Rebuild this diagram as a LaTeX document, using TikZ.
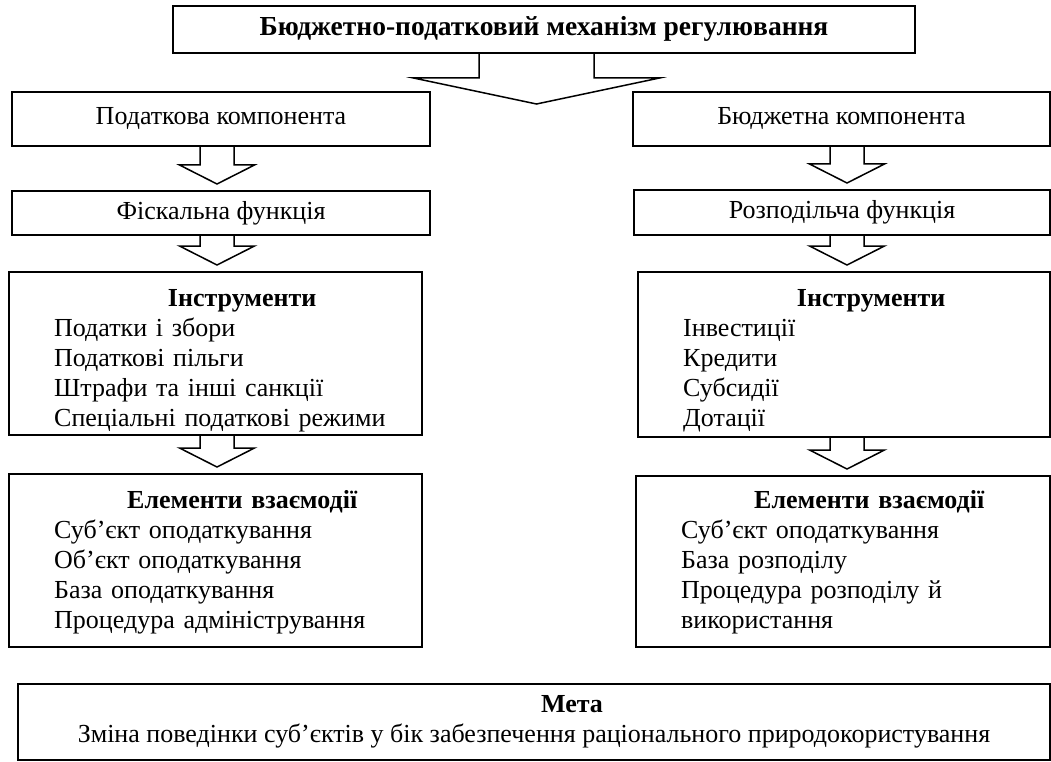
\documentclass[tikz,border=0pt]{standalone}
\usepackage{fontspec}
\setmainfont{Liberation Serif}
\usetikzlibrary{positioning, calc}

% hollow block arrow from the bottom of one box down towards the next one
\newcommand{\hollowarrow}[3]{% #1 column, #2 source node, #3 target node
  \draw[arrowline]
    ($(#2.south -| #1)+(-17,0)$) -- ($(#3.north -| #1)+(-17,-25)$)
    -- ($(#3.north -| #1)+(-37.5,-25)$) -- ($(#3.north -| #1)+(0,-6)$)
    -- ($(#3.north -| #1)+(37.5,-25)$) -- ($(#3.north -| #1)+(17,-25)$)
    -- ($(#2.south -| #1)+(17,0)$);
}

\begin{document}
\begin{tikzpicture}[
    x=1pt, y=-1pt,
    font=\fontsize{26}{30}\selectfont,
    % boxes and their contents
    box/.style        = {draw=black, line width=2pt, inner sep=0pt},
    rowbox/.style     = {box, text height=18pt, text depth=6pt},
    panel text/.style = {anchor=north west, inner sep=0pt, text width=376pt, align=left},
    arrowline/.style  = {draw=black, line width=1.5pt, line join=miter},
  ]
  \fill[white] (0,0) rectangle (1051,762);
  \useasboundingbox (0,0) rectangle (1051,762);

  %% ---------- top: the mechanism and its split ----------
  \node[rowbox, minimum width=742pt, minimum height=47pt, font=\fontsize{27.5}{30}\selectfont\bfseries]
    (mech) at (544,29.5) {Бюджетно-податковий механізм регулювання};
  \coordinate (split) at (536.5,104);
  \draw[arrowline] ($(mech.south -| split)+(-57.5,0)$) -- ($(split)+(-57.5,-26)$)
    -- ($(split)+(-123,-26)$) -- (split) -- ($(split)+(123,-26)$)
    -- ($(split)+(57.5,-26)$) -- ($(mech.south -| split)+(57.5,0)$);

  %% ---------- components and functions ----------
  \node[rowbox, minimum width=418pt, minimum height=54pt] (taxComp) at (221,119)   {Податкова компонента};
  \node[rowbox, minimum width=417pt, minimum height=54pt] (budComp) at (841.5,119) {Бюджетна компонента};
  \node[rowbox, minimum width=418pt, minimum height=44pt] (fiscFn)  at (221,213)   {Фіскальна функція};
  \node[rowbox, minimum width=416pt, minimum height=45pt] (distFn)  at (842,212.5) {Розподільча функція};

  %% ---------- instruments ----------
  \node[box, minimum width=413pt, minimum height=163pt] (toolsL) at (215.5,353.5) {};
  \node[box, minimum width=412pt, minimum height=165pt] (toolsR) at (844,354.5) {};
  \node[panel text] (toolsLtext) at ($(toolsL.north west)+(46,14)$)
    {{\centering\bfseries\strut Інструменти\par}
     Податки і збори\\ Податкові пільги\\ Штрафи та інші санкції\\ Спеціальні податкові режими};
  \node[panel text] (toolsRtext) at ($(toolsR.north west)+(46,14)$)
    {{\centering\bfseries\strut Інструменти\par}
     Інвестиції\\ Кредити\\ Субсидії\\ Дотації};

  %% ---------- elements of interaction ----------
  \node[box, minimum width=413pt, minimum height=173pt] (elemL) at (215.5,560.5) {};
  \node[box, minimum width=414pt, minimum height=171pt] (elemR) at (843,561.5) {};
  \node[panel text] (elemLtext) at ($(elemL.north west)+(46,14)$)
    {{\centering\bfseries\strut Елементи взаємодії\par}
     Суб’єкт оподаткування\\ Об’єкт оподаткування\\ База оподаткування\\ Процедура адміністрування};
  \node[panel text] (elemRtext) at ($(elemR.north west)+(46,12)$)
    {{\centering\bfseries\strut Елементи взаємодії\par}
     Суб’єкт оподаткування\\ База розподілу\\ Процедура розподілу й\\ використання};

  %% ---------- goal ----------
  \node[box, minimum width=1032pt, minimum height=76pt, align=center] (goal) at (534,722)
    {\hspace*{76pt}\textbf{Мета}\\
     Зміна поведінки суб’єктів у бік забезпечення раціонального природокористування};

  %% ---------- block arrows down each column ----------
  \coordinate (colL) at (217,0);
  \coordinate (colR) at (847,0);
  \foreach \col/\src/\dst in {colL/taxComp/fiscFn, colL/fiscFn/toolsL, colL/toolsL/elemL,
                              colR/budComp/distFn, colR/distFn/toolsR, colR/toolsR/elemR}
    {\hollowarrow{\col}{\src}{\dst}}
\end{tikzpicture}
\end{document}
